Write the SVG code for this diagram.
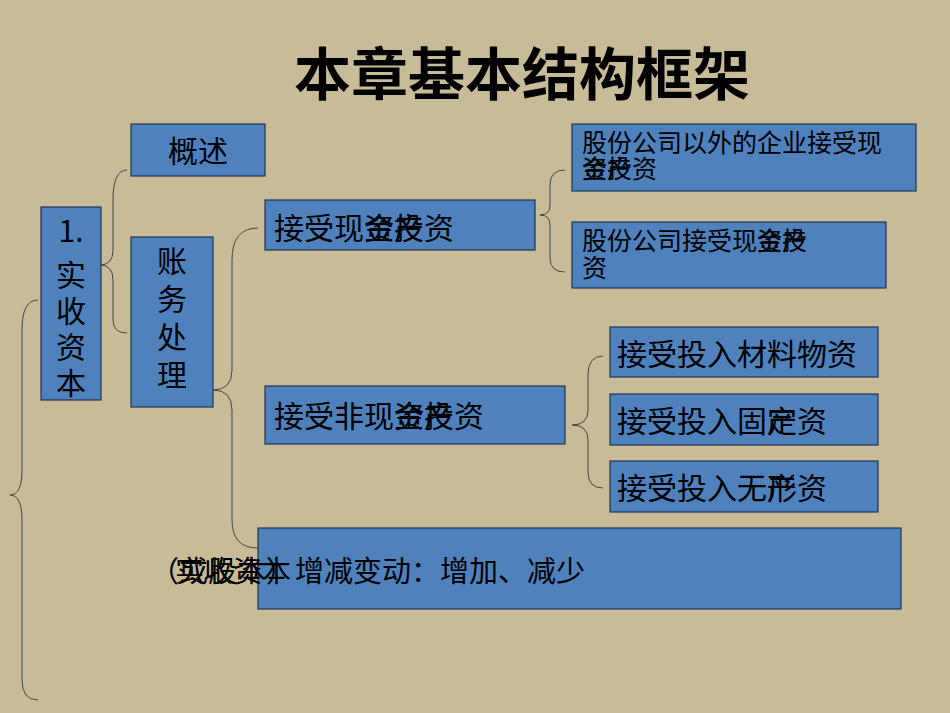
<svg xmlns="http://www.w3.org/2000/svg" width="950" height="713" viewBox="0 0 950 713">
<style>
.b{fill:#4f81bd;stroke:#1f3550;stroke-width:1.2}
.t{font-family:"Noto Sans CJK SC",sans-serif;fill:#000}
.c{fill:none;stroke:#444;stroke-width:1}
</style>
<rect width="950" height="713" fill="#c8bc98"/>
<text class="t" x="522" y="95" font-size="57" font-weight="bold" text-anchor="middle">本章基本结构框架</text>
<g id="n1"><rect class="b" x="41" y="207" width="60" height="193"/>
<text class="t" font-size="30" x="71" y="242" text-anchor="middle">1.</text>
<text class="t" font-size="30" x="71" y="286" text-anchor="middle">实</text>
<text class="t" font-size="30" x="71" y="322" text-anchor="middle">收</text>
<text class="t" font-size="30" x="71" y="358" text-anchor="middle">资</text>
<text class="t" font-size="30" x="71" y="394" text-anchor="middle">本</text></g>
<g id="n2"><rect class="b" x="131" y="124" width="134" height="52"/><text class="t" font-size="30" x="198" y="162" text-anchor="middle">概述</text></g>
<g id="n3"><rect class="b" x="131" y="237" width="82" height="170"/>
<text class="t" font-size="30" x="172" y="272" text-anchor="middle">账</text>
<text class="t" font-size="30" x="172" y="310" text-anchor="middle">务</text>
<text class="t" font-size="30" x="172" y="348" text-anchor="middle">处</text>
<text class="t" font-size="30" x="172" y="386" text-anchor="middle">理</text></g>
<g id="n4"><rect class="b" x="265" y="200" width="270" height="50"/><text class="t" font-size="30" x="274" y="239">接受现金投资</text><text class="t" font-size="30" x="364" y="239">资产</text></g>
<g id="n5"><rect class="b" x="572" y="124" width="344" height="67"/><text class="t" font-size="25" x="582" y="152">股份公司以外的企业接受现</text><text class="t" font-size="25" x="582" y="178">金投资</text><text class="t" font-size="25" x="582" y="178">资产</text></g>
<g id="n6"><rect class="b" x="572" y="222" width="314" height="66"/><text class="t" font-size="25" x="582" y="250">股份公司接受现金投</text><text class="t" font-size="25" x="757" y="250">资产</text><text class="t" font-size="25" x="582" y="277">资</text></g>
<g id="n7"><rect class="b" x="265" y="386" width="300" height="58"/><text class="t" font-size="30" x="274" y="427">接受非现金投资</text><text class="t" font-size="30" x="394" y="427">资产</text></g>
<g id="n8"><rect class="b" x="610" y="327" width="268" height="50"/><text class="t" font-size="30" x="617" y="365">接受投入材料物资</text></g>
<g id="n9"><rect class="b" x="610" y="394" width="268" height="51"/><text class="t" font-size="30" x="617" y="432">接受投入固定资</text><text class="t" font-size="30" x="767" y="432">产</text></g>
<g id="n10"><rect class="b" x="610" y="461" width="268" height="51"/><text class="t" font-size="30" x="617" y="499">接受投入无形资</text><text class="t" font-size="30" x="767" y="499">产</text></g>
<g id="n11"><rect class="b" x="258" y="528" width="643" height="81"/><text class="t" font-size="29" x="150" y="582">（或股本）增减变动：增加、减少</text><text class="t" font-size="29" x="175" y="582">实收资本</text></g>
<g id="connectors">
<path class="c" d="M127 170 Q113 170 113 200 L113 250 Q113 265 100 265 Q113 265 113 280 L113 320 Q113 333 127 333"/>
<path class="c" d="M258 228 Q232 228 232 260 L232 370 Q232 390 213 390 Q232 390 232 410 L232 520 Q232 548 258 548"/>
<path class="c" d="M565 170 Q550 170 550 185 L550 205 Q550 215 540 215 Q550 215 550 225 L550 258 Q550 272 565 272"/>
<path class="c" d="M603 356 Q588 356 588 375 L588 410 Q588 425 572 425 Q588 425 588 440 L588 472 Q588 488 603 488"/>
<path class="c" d="M38 300 Q22 300 22 330 L22 470 Q22 495 10 495 Q22 495 22 520 L22 680 Q22 700 38 700"/>
</g>
</svg>
